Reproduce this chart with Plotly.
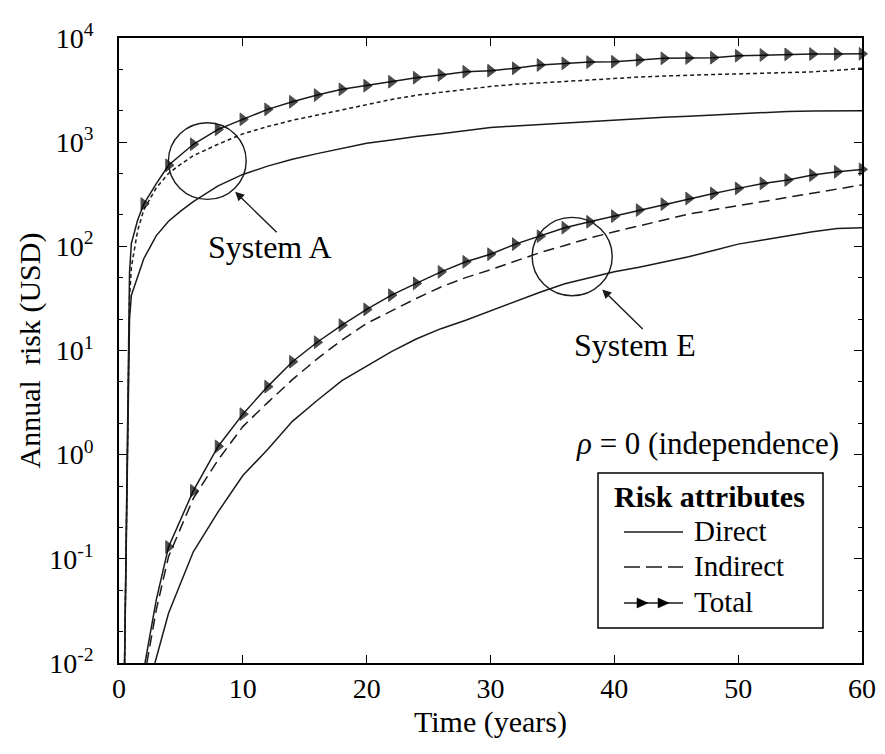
import plotly.graph_objects as go

# ---------------- data ----------------
# System A (common time grid)
t_A = [0.45, 0.85, 1.0, 1.5, 2, 3, 4, 5, 6, 8, 10, 12, 14, 16, 18, 20, 22, 24, 26, 28,
       30, 32, 34, 36, 38, 40, 42, 44, 46, 48, 50, 52, 54, 56, 58, 60]
direct_A = [0.01, 20, 34, 52, 76, 126, 174, 219, 269, 380, 490, 589, 684, 776, 871, 977,
            1047, 1135, 1202, 1288, 1380, 1429, 1479, 1531, 1585, 1641, 1698, 1738, 1778,
            1828, 1884, 1928, 1972, 1995, 2004, 2004]
indirect_A = [0.01, 32, 63, 141, 224, 363, 501, 617, 741, 955, 1202, 1413, 1622, 1820, 2042,
              2291, 2570, 2818, 3020, 3236, 3428, 3589, 3715, 3846, 3981, 4074, 4217, 4315,
              4416, 4467, 4519, 4571, 4624, 4732, 4898, 5129]
total_A = [0.01, 56, 107, 178, 255, 398, 600, 760, 955, 1327, 1656, 2065, 2443, 2831, 3214,
           3483, 3802, 4159, 4416, 4742, 4853, 5117, 5508, 5715, 5875, 5916, 6152, 6383,
           6427, 6471, 6761, 6871, 6966, 7015, 7015, 7047]

# System E
t_direct_E = [2.9, 4, 6, 8, 10, 12, 14, 16, 18, 20, 22, 24, 26, 28, 30, 32, 34, 36, 38, 40,
              42, 44, 46, 48, 50, 52, 54, 56, 58, 60]
direct_E = [0.01, 0.03, 0.117, 0.282, 0.631, 1.12, 2.09, 3.31, 5.13, 7.08, 9.77, 12.9, 16.2,
            19.5, 24.0, 29.5, 36.3, 43.7, 50.1, 56.9, 63.1, 70.8, 79.4, 91.2, 105, 115, 126,
            138, 148, 151]
t_indirect_E = [2.25, 3, 4, 6, 8, 10, 12, 14, 16, 18, 20, 22, 24, 26, 28, 30, 32, 34, 36, 38,
                40, 42, 44, 46, 48, 50, 52, 54, 56, 58, 60]
indirect_E = [0.01, 0.032, 0.105, 0.38, 0.89, 1.86, 3.16, 5.25, 8.32, 12.6, 18.2, 24.0, 31.6,
              40.7, 50.1, 59.6, 72.4, 87.1, 102, 120, 138, 158, 178, 204, 224, 245, 269, 295,
              324, 355, 389]
t_total_E = [2.1, 3, 4, 6, 8, 10, 12, 14, 16, 18, 20, 22, 24, 26, 28, 30, 32, 34, 36, 38,
             40, 42, 44, 46, 48, 50, 52, 54, 56, 58, 60]
total_E = [0.01, 0.04, 0.13, 0.45, 1.2, 2.45, 4.5, 7.8, 12.0, 17.5, 24.8, 34.0, 44.1, 56.9,
           71.0, 84.1, 105, 125, 151, 172, 195, 223, 254, 288, 322, 360, 402, 433, 483, 520,
           548]

x_ticks = [0, 10, 20, 30, 40, 50, 60]
y_tickvals = [0.01, 0.1, 1, 10, 100, 1000, 10000]
y_ticktext = ["10<sup>-2</sup>", "10<sup>-1</sup>", "10<sup>0</sup>", "10<sup>1</sup>",
              "10<sup>2</sup>", "10<sup>3</sup>", "10<sup>4</sup>"]

legend_title = "Risk attributes"
legend_labels = ["Direct", "Indirect", "Total"]

# ---------------- styling ----------------
FONT = "Liberation Serif, Times New Roman, serif"
BLACK = "#000000"
LINE = "#1a1a1a"
LW = 1.5

# page-pixel geometry of the plot area (the page body adds an 8 px offset)
PX0, PX1, PY0, PY1 = 119, 862, 38, 663


def px(x):
    return (x - PX0) / (PX1 - PX0)


def py(y):
    return (PY1 - y) / (PY1 - PY0)


def marker_sizes(ts, size=11):
    return [size if (float(t).is_integer() and int(t) % 2 == 0) else 0 for t in ts]


marker_style = dict(symbol="triangle-right", color=BLACK, line=dict(color=BLACK, width=1))

fig = go.Figure()

# System A
fig.add_trace(go.Scatter(x=t_A, y=direct_A, mode="lines", showlegend=False,
                         line=dict(color=LINE, width=LW)))
fig.add_trace(go.Scatter(x=t_A, y=indirect_A, mode="lines", showlegend=False,
                         line=dict(color=LINE, width=LW, dash="4px,3px")))
fig.add_trace(go.Scatter(x=t_A, y=total_A, mode="lines+markers", showlegend=False,
                         cliponaxis=False,
                         line=dict(color=LINE, width=LW),
                         marker=dict(size=marker_sizes(t_A), **marker_style)))

# System E
fig.add_trace(go.Scatter(x=t_direct_E, y=direct_E, mode="lines", name="Direct",
                         showlegend=False, line=dict(color=LINE, width=LW)))
fig.add_trace(go.Scatter(x=t_indirect_E, y=indirect_E, mode="lines", name="Indirect",
                         showlegend=False, line=dict(color=LINE, width=LW, dash="11px,6px")))
fig.add_trace(go.Scatter(x=t_total_E, y=total_E, mode="lines+markers", name="Total",
                         showlegend=False, cliponaxis=False,
                         line=dict(color=LINE, width=LW),
                         marker=dict(size=marker_sizes(t_total_E), **marker_style)))

# annotation circles
circle_line = dict(color=LINE, width=1.4)
fig.add_shape(type="circle", xref="x", yref="y", x0=3.99, x1=10.27, y0=282.5, y1=1535,
              line=circle_line)
fig.add_shape(type="circle", xref="x", yref="y", x0=33.36, x1=39.83, y0=33.5, y1=189.7,
              line=circle_line)

ann_font = dict(family=FONT, size=32, color=BLACK)
fig.add_annotation(x=9.38, y=2.524, ax=43, ay=42, text="", showarrow=True,
                   arrowhead=2, arrowsize=1.3, arrowwidth=1.4, arrowcolor=LINE)
fig.add_annotation(x=12.21, y=1.995, text="System A", showarrow=False, font=ann_font)
fig.add_annotation(x=39.02, y=1.586, ax=42, ay=41, text="", showarrow=True,
                   arrowhead=2, arrowsize=1.3, arrowwidth=1.4, arrowcolor=LINE)
fig.add_annotation(x=41.7, y=1.05, text="System E", showarrow=False, font=ann_font)
fig.add_annotation(x=47.5, y=0.11, text="<i>ρ</i> = 0 (independence)", showarrow=False,
                   font=dict(family=FONT, size=31, color=BLACK))

# ---------------- hand-drawn legend box ----------------
fig.add_shape(type="rect", xref="paper", yref="paper",
              x0=px(598), x1=px(823), y0=py(628), y1=py(473),
              line=dict(color=BLACK, width=1.5), fillcolor="white", layer="above")
fig.add_annotation(xref="paper", yref="paper", x=px(709), y=py(497),
                   xanchor="center", yanchor="middle",
                   text="<b>" + legend_title + "</b>", showarrow=False,
                   font=dict(family=FONT, size=30, color=BLACK))
row_y = [532, 567, 603]
sample_x0, sample_x1, text_x = 624, 683, 692
dashes = ["solid", "16px,6px", "solid"]
for lab, ry, dsh in zip(legend_labels, row_y, dashes):
    fig.add_shape(type="line", xref="paper", yref="paper",
                  x0=px(sample_x0), x1=px(sample_x1), y0=py(ry), y1=py(ry),
                  line=dict(color=LINE, width=LW, dash=dsh), layer="above")
    fig.add_annotation(xref="paper", yref="paper", x=px(text_x), y=py(ry - 1),
                       xanchor="left", yanchor="middle", text=lab, showarrow=False,
                       font=dict(family=FONT, size=29, color=BLACK))
# two triangle markers on the "Total" sample
for cx in [642, 663]:
    cy = row_y[2]
    path = "M {},{} L {},{} L {},{} Z".format(px(cx - 5), py(cy - 5), px(cx + 6), py(cy),
                                              px(cx - 5), py(cy + 5))
    fig.add_shape(type="path", xref="paper", yref="paper", path=path,
                  fillcolor=BLACK, line=dict(color=BLACK, width=0.5), layer="above")

fig.update_layout(
    width=885, height=754,
    margin=dict(l=111, r=31, t=30, b=99),
    paper_bgcolor="white", plot_bgcolor="white",
    font=dict(family=FONT, size=28, color=BLACK),
    showlegend=False,
    xaxis=dict(
        range=[0, 60], tickvals=x_ticks, ticks="inside", ticklen=8, tickwidth=1.3,
        tickcolor=BLACK, showline=True, linecolor=BLACK, linewidth=1.5, mirror="ticks",
        showgrid=False, zeroline=False, automargin=False,
        tickfont=dict(family=FONT, size=28, color=BLACK),
        title=dict(text="Time (years)", font=dict(family=FONT, size=30, color=BLACK),
                   standoff=8),
    ),
    yaxis=dict(
        type="log", range=[-2, 4], tickvals=y_tickvals, ticktext=y_ticktext,
        ticks="inside", ticklen=8, tickwidth=1.3, tickcolor=BLACK,
        minor=dict(ticks="inside", ticklen=4, tickwidth=1, tickcolor=BLACK, showgrid=False),
        showline=True, linecolor=BLACK, linewidth=1.5, mirror="ticks",
        showgrid=False, zeroline=False, automargin=False, ticklabelstandoff=18,
        tickfont=dict(family=FONT, size=28, color=BLACK),
        title=dict(text="Annual  risk (USD)", font=dict(family=FONT, size=30, color=BLACK),
                   standoff=0),
    ),
)

fig.write_html("out.html")
